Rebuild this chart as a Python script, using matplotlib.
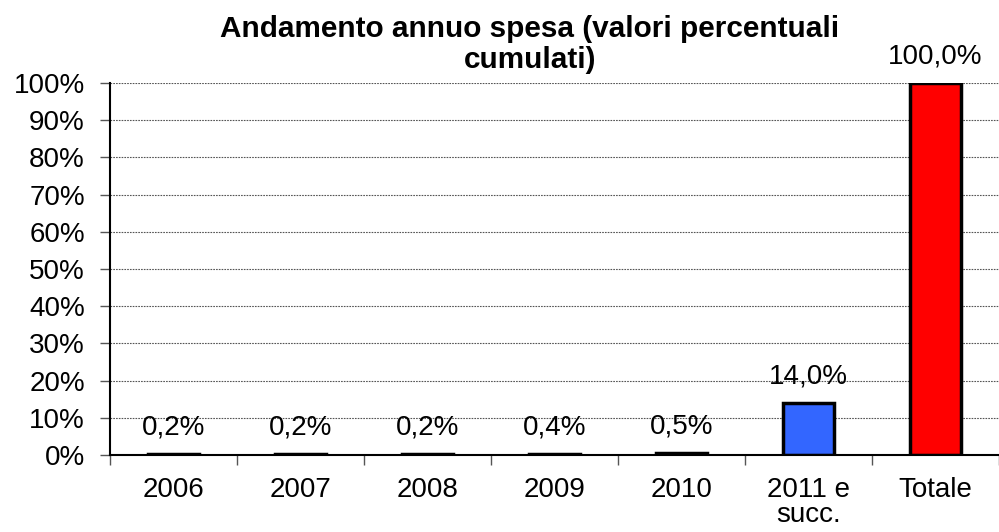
import matplotlib
matplotlib.use('Agg')
from matplotlib import pyplot as plt
import numpy as np

plt.rcParams['font.family'] = ['Liberation Sans', 'DejaVu Sans']

categories = ['2006', '2007', '2008', '2009', '2010', '2011 e\nsucc.', 'Totale']
values = [0.2, 0.2, 0.2, 0.4, 0.5, 14.0, 100.0]
labels = ['0,2%', '0,2%', '0,2%', '0,4%', '0,5%', '14,0%', '100,0%']
colors = ['#3366FF', '#3366FF', '#3366FF', '#3366FF', '#3366FF', '#3366FF', '#FF0000']
y_ticks = list(range(0, 101, 10))
title_lines = ['Andamento annuo spesa (valori percentuali', 'cumulati)']

fig = plt.figure(figsize=(9.99, 5.32), dpi=100)
ax = fig.add_axes([110 / 999, 77 / 532, 889 / 999, 372 / 532])

x = np.arange(len(categories))
ax.bar(x, values, width=0.4, color=colors, edgecolor='black', linewidth=2.5, zorder=3)

for xi, v, lab in zip(x, values, labels):
    ax.annotate(lab, (xi, v), xytext=(0, 14), textcoords='offset points',
                ha='center', va='baseline', fontsize=20, zorder=4)

ax.set_ylim(0, 100)
ax.set_xlim(-0.5, -0.5 + 889 / 127.8)
ax.set_yticks(y_ticks)
ax.set_yticklabels(['%d%%' % t for t in y_ticks], fontsize=20)
ax.yaxis.grid(True, color='#555555', linestyle=(0, (1.5, 1)), linewidth=0.8, zorder=0)

ax.set_xticks(np.arange(-0.5, len(categories), 1.0))
ax.set_xticklabels([])
ax.set_xticks(x, minor=True)
ax.set_xticklabels(categories, minor=True, fontsize=20, linespacing=0.95)
ax.tick_params(axis='x', which='minor', length=0, pad=16)
ax.tick_params(axis='x', which='major', length=7, width=1, color='#555555', direction='out')
ax.tick_params(axis='y', length=7, width=1, color='#555555', direction='out', pad=11)

for s in ['top', 'right']:
    ax.spines[s].set_visible(False)
ax.spines['left'].set_linewidth(1.5)
ax.spines['bottom'].set_linewidth(1.5)
ax.spines['bottom'].set_zorder(5)

# titolo su due righe, posizionate a mano
for line, yb in zip(title_lines, [37, 68]):
    fig.text(530 / 999, 1 - yb / 532, line, ha='center', va='baseline',
             fontsize=21.4, fontweight='bold')

plt.savefig('out.png', dpi=100)
